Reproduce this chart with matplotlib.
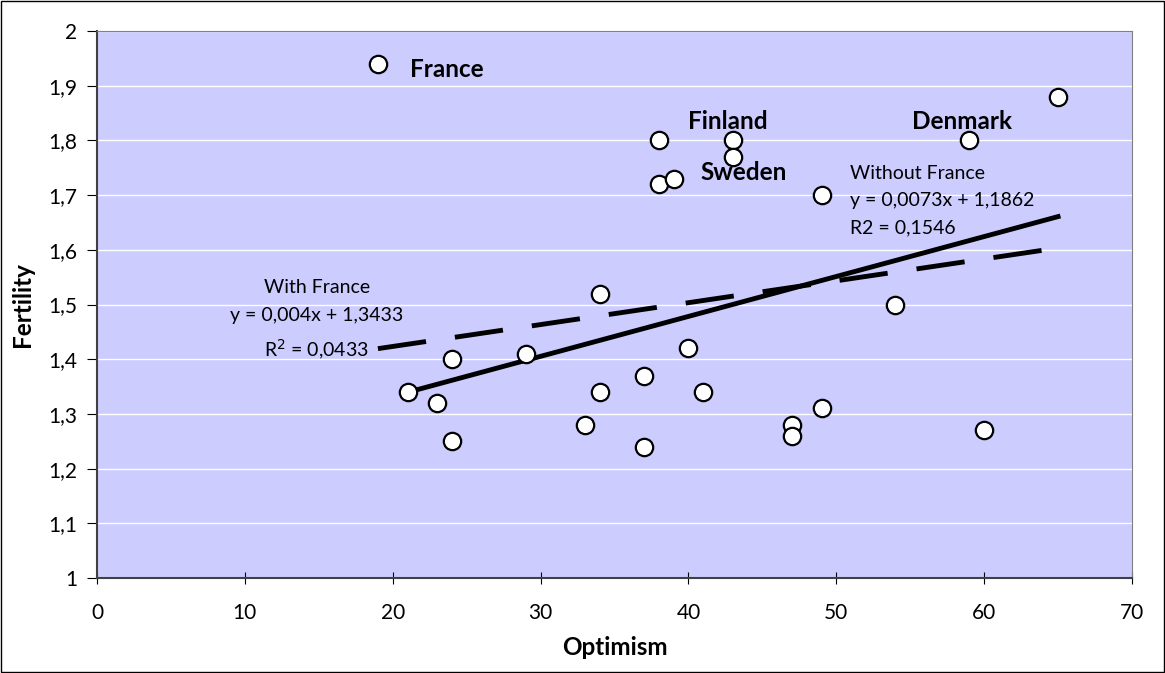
import numpy as np
import matplotlib.pyplot as plt
from matplotlib.patches import Rectangle

optimism = [19, 65, 59, 38, 43, 43, 38, 39, 49, 34, 54, 40, 29, 24, 21,
            34, 41, 37, 23, 49, 33, 47, 47, 60, 24, 37]
fertility = [1.94, 1.88, 1.80, 1.80, 1.80, 1.77, 1.72, 1.73, 1.70, 1.52, 1.50,
             1.42, 1.41, 1.40, 1.34, 1.34, 1.34, 1.37, 1.32, 1.31, 1.28, 1.28,
             1.26, 1.27, 1.25, 1.24]

# trend lines (Excel)
with_fr = (0.004, 1.3433)
without_fr = (0.0073, 1.1862)

plt.rcParams['font.family'] = ['Lato', 'DejaVu Sans']

fig = plt.figure(figsize=(11.65, 6.73), dpi=100)
ax = fig.add_axes([97 / 1165, 1 - 578 / 673, (1132 - 97) / 1165, (578 - 31) / 673])
ax.set_facecolor('#CCCCFF')
fig.add_artist(Rectangle((0.001, 0.001), 0.998, 0.997, transform=fig.transFigure,
                         fill=False, edgecolor='black', linewidth=1))

ax.set_xlim(0, 70)
ax.set_ylim(1, 2)
ax.set_xticks(np.arange(0, 71, 10))
yt = np.arange(1, 2.01, 0.1)
ax.set_yticks(yt)
ax.set_yticklabels([f"{v:.1f}".replace('.', ',').replace(',0', '') for v in yt])
ax.grid(axis='y', color='white', linewidth=1)
ax.set_axisbelow(True)
for s in ['top', 'right']:
    ax.spines[s].set_color('#808080')
for s in ['left', 'bottom']:
    ax.spines[s].set_color('#404040')
    ax.spines[s].set_linewidth(1.5)
ax.tick_params(axis='x', direction='inout', length=8, labelsize=15, pad=14)
ax.tick_params(axis='y', direction='out', length=7, labelsize=15, pad=7)

xa = np.array([19, 65])
ax.plot(xa, with_fr[0] * xa + with_fr[1], color='black', linewidth=3.5,
        linestyle=(0, (10, 6)))
xb = np.array([21, 65])
ax.plot(xb, without_fr[0] * xb + without_fr[1], color='black', linewidth=3.5)

ax.plot(optimism, fertility, 'o', markerfacecolor='white', markeredgecolor='black',
        markeredgewidth=1.6, markersize=12.5)

lab = dict(fontsize=17.5, fontweight='bold', va='center')
ax.text(21.2, 1.929, 'France', **lab)
ax.text(40.0, 1.835, 'Finland', **lab)
ax.text(55.1, 1.835, 'Denmark', **lab)
ax.text(40.8, 1.742, 'Sweden', **lab)

ax.text(14.85, 1.470, 'With France\ny = 0,004x + 1,3433\nR$^2$ = 0,0433', fontsize=14,
        ha='center', va='center', multialignment='center', linespacing=1.75)
ax.text(50.9, 1.690, 'Without France\ny = 0,0073x + 1,1862\nR2 = 0,1546', fontsize=14,
        ha='left', va='center', linespacing=1.75)

ax.set_xlabel('Optimism', fontsize=17.5, fontweight='bold')
ax.set_ylabel('Fertility', fontsize=17.5, fontweight='bold')
ax.xaxis.set_label_coords(0.5, (578 - 636) / 547)
ax.yaxis.set_label_coords((34 - 97) / 1035, 0.5)

fig.savefig('out.png', dpi=100)
